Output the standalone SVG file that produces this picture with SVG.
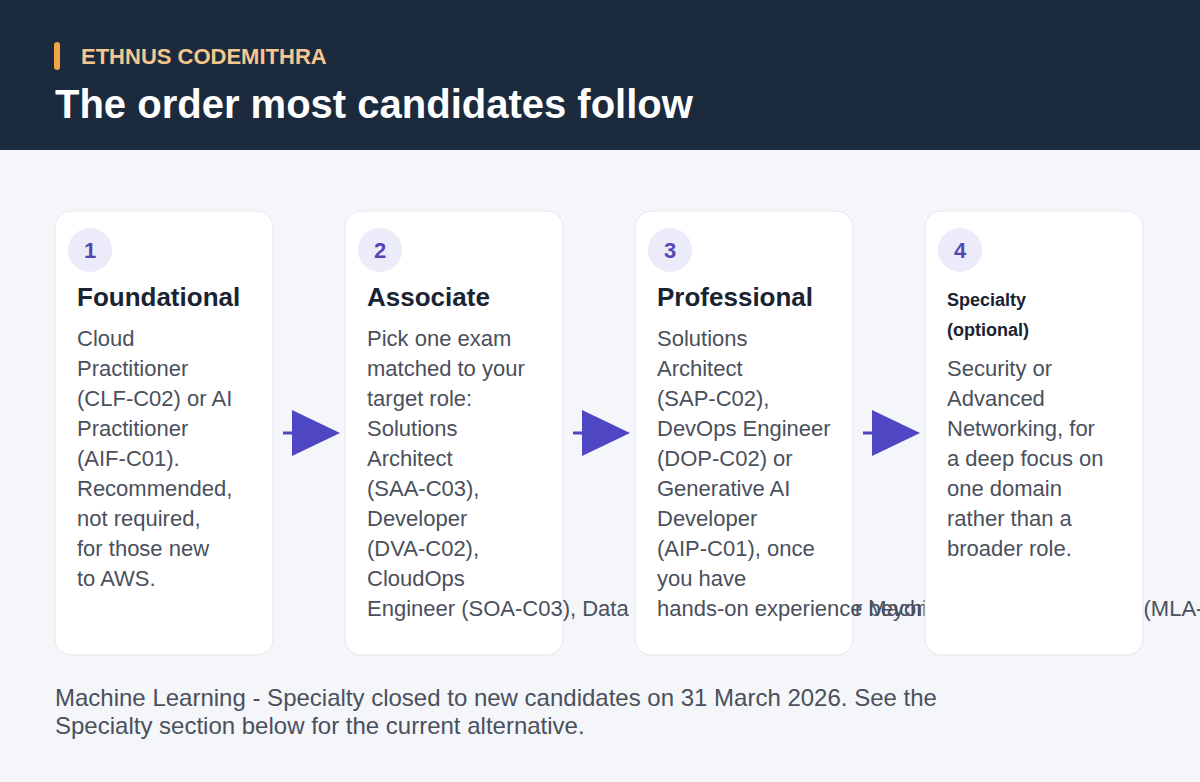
<svg xmlns="http://www.w3.org/2000/svg" width="1200" height="782" viewBox="0 0 1200 782">
<style>
.card{fill:#ffffff;stroke:#e4e7ed;stroke-width:1}
.badge{fill:#ecebfa}
.num{font-family:"Liberation Sans",Arial,sans-serif;font-weight:bold;font-size:22px;fill:#5246b5;text-anchor:middle}
.title{font-family:"Liberation Sans",Arial,sans-serif;font-weight:bold;font-size:26px;fill:#1a2332}
.stitle{font-family:"Liberation Sans",Arial,sans-serif;font-weight:bold;font-size:18px;fill:#1a2332}
.body{font-family:"Liberation Sans",Arial,sans-serif;font-size:22px;fill:#4a505c}
.note{font-family:"Liberation Sans",Arial,sans-serif;font-size:24px;fill:#4a505c}
.arrow line{stroke:#4f46c4;stroke-width:3}
.arrow polygon{fill:#4f46c4}
</style>
<rect x="0" y="0" width="1200" height="782" fill="#f4f6fa"/>
<g id="header">
<rect x="0" y="0" width="1200" height="150" fill="#1b2a3d"/>
<rect x="54" y="42" width="6" height="28" rx="3" fill="#f0a640"/>
<text x="81" y="64" font-family="Liberation Sans,Arial,sans-serif" font-weight="bold" font-size="22" fill="#f3c78f">ETHNUS CODEMITHRA</text>
<text x="55" y="118" font-family="Liberation Sans,Arial,sans-serif" font-weight="bold" font-size="40" fill="#ffffff">The order most candidates follow</text>
</g>
<g id="card1">
<rect class="card" x="55" y="211" width="218" height="444" rx="16"/>
<circle class="badge" cx="90" cy="250" r="22"/>
<text class="num" x="90" y="258">1</text>
<text class="title" x="77" y="306">Foundational</text>
<text class="body"><tspan x="77" y="346">Cloud</tspan><tspan x="77" y="376">Practitioner</tspan><tspan x="77" y="406">(CLF-C02) or AI</tspan><tspan x="77" y="436">Practitioner</tspan><tspan x="77" y="466">(AIF-C01).</tspan><tspan x="77" y="496">Recommended,</tspan><tspan x="77" y="526">not required,</tspan><tspan x="77" y="556">for those new</tspan><tspan x="77" y="586">to AWS.</tspan></text>
</g>
<g id="card2">
<rect class="card" x="345" y="211" width="218" height="444" rx="16"/>
<circle class="badge" cx="380" cy="250" r="22"/>
<text class="num" x="380" y="258">2</text>
<text class="title" x="367" y="306">Associate</text>
<text class="body"><tspan x="367" y="346">Pick one exam</tspan><tspan x="367" y="376">matched to your</tspan><tspan x="367" y="406">target role:</tspan><tspan x="367" y="436">Solutions</tspan><tspan x="367" y="466">Architect</tspan><tspan x="367" y="496">(SAA-C03),</tspan><tspan x="367" y="526">Developer</tspan><tspan x="367" y="556">(DVA-C02),</tspan><tspan x="367" y="586">CloudOps</tspan><tspan x="367" y="616">Engineer (SOA-C03), Data Engineer (DEA-C01) or Machine Learning Engineer (MLA-C01)</tspan></text>
</g>
<g id="card3">
<rect class="card" x="635" y="211" width="218" height="444" rx="16"/>
<circle class="badge" cx="670" cy="250" r="22"/>
<text class="num" x="670" y="258">3</text>
<text class="title" x="657" y="306">Professional</text>
<text class="body"><tspan x="657" y="346">Solutions</tspan><tspan x="657" y="376">Architect</tspan><tspan x="657" y="406">(SAP-C02),</tspan><tspan x="657" y="436">DevOps Engineer</tspan><tspan x="657" y="466">(DOP-C02) or</tspan><tspan x="657" y="496">Generative AI</tspan><tspan x="657" y="526">Developer</tspan><tspan x="657" y="556">(AIP-C01), once</tspan><tspan x="657" y="586">you have</tspan><tspan x="657" y="616">hands-on experience beyond</tspan></text>
</g>
<g id="card4">
<rect class="card" x="925" y="211" width="218" height="444" rx="16"/>
<circle class="badge" cx="960" cy="250" r="22"/>
<text class="num" x="960" y="258">4</text>
<text class="stitle"><tspan x="947" y="306">Specialty</tspan><tspan x="947" y="336">(optional)</tspan></text>
<text class="body"><tspan x="947" y="376">Security or</tspan><tspan x="947" y="406">Advanced</tspan><tspan x="947" y="436">Networking, for</tspan><tspan x="947" y="466">a deep focus on</tspan><tspan x="947" y="496">one domain</tspan><tspan x="947" y="526">rather than a</tspan><tspan x="947" y="556">broader role.</tspan></text>
</g>
<g id="connectors">
<g class="arrow"><line x1="283" y1="433" x2="294" y2="433"/><polygon points="292,410 340,433 292,456"/></g>
<g class="arrow"><line x1="573" y1="433" x2="584" y2="433"/><polygon points="582,410 630,433 582,456"/></g>
<g class="arrow"><line x1="863" y1="433" x2="874" y2="433"/><polygon points="872,410 920,433 872,456"/></g>
</g>
<g id="footnote">
<text class="note"><tspan x="55" y="706">Machine Learning - Specialty closed to new candidates on 31 March 2026. See the</tspan><tspan x="55" y="734">Specialty section below for the current alternative.</tspan></text>
</g>
</svg>
